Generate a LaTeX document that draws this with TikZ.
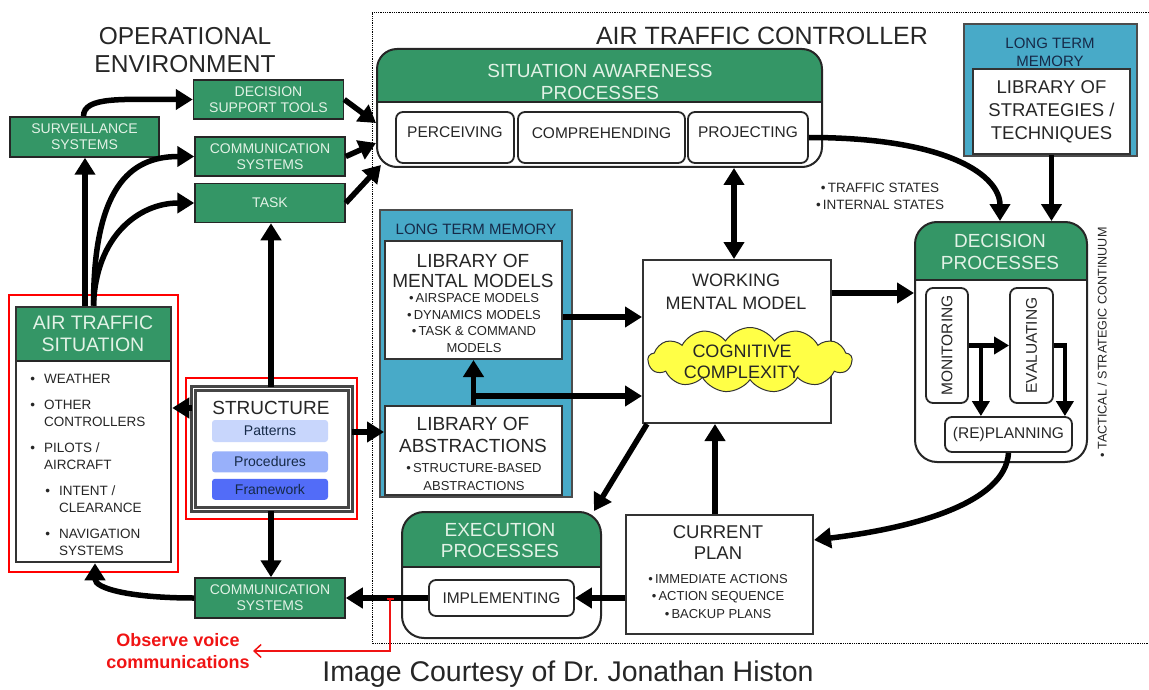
\documentclass[tikz,border=0pt]{standalone}
\usepackage{fontspec}
\setmainfont{Liberation Sans}
\usetikzlibrary{arrows.meta, positioning, shapes.symbols}

\definecolor{atcgreen}{RGB}{52,150,102}
\definecolor{hdwhite}{RGB}{226,242,230}
\definecolor{ltmblue}{RGB}{72,170,200}
\definecolor{ltmnavy}{RGB}{22,42,72}
\definecolor{txtdark}{RGB}{38,38,38}
\definecolor{patfill}{RGB}{200,214,252}
\definecolor{procfill}{RGB}{152,176,250}
\definecolor{frmfill}{RGB}{82,108,248}
\definecolor{cloudfill}{RGB}{255,255,70}
\definecolor{obsred}{RGB}{240,20,20}

\newcommand{\fsz}[2]{\fontsize{#1}{#2}\selectfont}

\begin{document}
\begin{tikzpicture}[x=1pt, y=-1pt,
    envbox/.style={rectangle, draw=black!85, line width=1.5pt, fill=atcgreen, text=hdwhite, font=\fsz{14}{16}, align=center, minimum width=150pt, minimum height=39pt, inner sep=1pt},
    plainbox/.style={rectangle, draw=black!80, line width=2pt, fill=white, inner sep=1pt, text=txtdark, align=center},
    procbox/.style={rectangle, draw=black!85, line width=2pt, rounded corners=20pt, fill=white},
    hdfill/.style={path picture={
        \fill[atcgreen, sharp corners] (path picture bounding box.north west) rectangle ([yshift=-#1]path picture bounding box.north east);
        \draw[black!85, line width=2pt, sharp corners] ([yshift=-#1]path picture bounding box.north west) -- ([yshift=-#1]path picture bounding box.north east);}},
    hdtext/.style={text=hdwhite, font=\fsz{19}{21.5}, align=center},
    subbox/.style={rectangle, draw=black!85, line width=1.8pt, rounded corners=7pt, fill=white, font=\fsz{15.5}{17}, text=txtdark, inner sep=1pt},
    ltmbox/.style={rectangle, draw=black!70, line width=1.2pt, fill=ltmblue},
    ltmlabel/.style={text=ltmnavy, font=\fsz{15}{18}, align=center},
    bigtxt/.style={text=txtdark, align=center},
    listtxt/.style={text=txtdark, font=\fsz{13.5}{17}, align=left, inner sep=0pt},
    tag/.style={rectangle, rounded corners=3pt, minimum width=116pt, minimum height=21pt, font=\fsz{14}{16}, text=ltmnavy, inner sep=0pt},
    redframe/.style={rectangle, draw=red, line width=2.5pt},
    arr/.style={line width=5.5pt, -{Triangle[length=17pt,width=20pt]}},
    dblarr/.style={line width=5.5pt, {Triangle[length=17pt,width=20pt]}-{Triangle[length=17pt,width=20pt]}},
    smallarr/.style={line width=4.5pt, -{Triangle[length=15pt,width=17pt]}}
]
    \useasboundingbox (0,0) rectangle (1149,690);

    % Controller frame
    \draw[densely dotted, line width=0.8pt] (1149,12) -- (372,12) -- (372,643) -- (1149,643);

    % Titles
    \node[font=\fsz{24.5}{28}, text=txtdark, align=center] (envtitle) at (185,50) {OPERATIONAL\\ENVIRONMENT};
    \node[font=\fsz{25}{28}, text=txtdark] (atctitle) at (762,36) {AIR TRAFFIC CONTROLLER};
    \node[font=\fsz{28.5}{31}, text=txtdark] (credit) at (568,674) {Image Courtesy of Dr.\ Jonathan Histon};

    % Operational environment
    \node[envbox, minimum width=149pt, minimum height=40pt] (surv) at (84.5,137) {SURVEILLANCE\\SYSTEMS};
    \node[envbox] (dst) at (268.5,99.5) {DECISION\\SUPPORT TOOLS};
    \node[envbox] (comm) at (270,156.5) {COMMUNICATION\\SYSTEMS};
    \node[envbox] (task) at (270,203) {TASK};
    \node[envbox, minimum height=40pt] (commout) at (270,598) {COMMUNICATION\\SYSTEMS};

    % Air traffic situation
    \node[redframe, minimum width=169pt, minimum height=277pt] (atsmark) at (93.5,433.5) {};
    \node[plainbox, line width=2.5pt, hdfill=54pt, minimum width=155pt, minimum height=255pt] (ats) at (93.5,434.5) {};
    \node[hdtext, font=\fsz{19.5}{22}] (atshd) at (93,334) {AIR TRAFFIC\\SITUATION};
    \foreach \x/\y/\t [count=\i] in {44/379/WEATHER, 44/413.5/{OTHER\\CONTROLLERS}, 44/456.5/{PILOTS /\\AIRCRAFT}, 59/499.5/{INTENT /\\CLEARANCE}, 59/542.5/{NAVIGATION\\SYSTEMS}}
        \node[listtxt, anchor=west] (atsitem\i) at (\x,\y) {\llap{\textbullet\hspace{9pt}}\t};

    % Structure
    \node[redframe, minimum width=171pt, minimum height=141pt] (structmark) at (271.5,448.5) {};
    \node[rectangle, draw=gray!55!black, line width=2.5pt, double=white, double distance=1.5pt, fill=white, minimum width=157pt, minimum height=121pt] (struct) at (272,449) {};
    \node[font=\fsz{19}{21}, text=txtdark] (structhd) at (271,408) {STRUCTURE};
    \node[tag, fill=patfill, minimum height=22pt] (patterns) at (270,431) {Patterns};
    \node[tag, fill=procfill, below=9pt of patterns] (procedures) {Procedures};
    \node[tag, fill=frmfill, below=6pt of procedures] (framework) {Framework};

    % Situation awareness
    \node[procbox, hdfill=53pt, minimum width=445pt, minimum height=118pt] (sa) at (599.5,108) {};
    \node[hdtext] (sahd) at (600,82) {SITUATION AWARENESS\\PROCESSES};
    \node[subbox, text depth=10pt, minimum width=118pt, minimum height=51pt] (perc) at (455,137.5) {PERCEIVING};
    \node[subbox, text depth=9pt, minimum width=167pt, minimum height=51pt] (comp) at (601.5,137.5) {COMPREHENDING};
    \node[subbox, text depth=10pt, minimum width=120pt, minimum height=51pt] (proj) at (748,137.5) {PROJECTING};

    % Long term memory, strategies
    \node[ltmbox, minimum width=173pt, minimum height=132pt] (ltmtop) at (1050.5,90) {};
    \node[ltmlabel] (ltmtophd) at (1050,52) {LONG TERM\\MEMORY};
    \node[plainbox, font=\fsz{18.5}{23}, minimum width=157pt, minimum height=85pt] (libstrat) at (1051.5,111.5) {LIBRARY OF\\STRATEGIES /\\TECHNIQUES};

    % Long term memory, models
    \node[ltmbox, minimum width=192pt, minimum height=287pt] (ltmmid) at (476,353.5) {};
    \node[ltmlabel] (ltmmidhd) at (476,229) {LONG TERM MEMORY};
    \node[plainbox, minimum width=177pt, minimum height=118pt] (libmm) at (473.5,300) {};
    \node[bigtxt, font=\fsz{19}{20}] (libmmhd) at (473,270.5) {LIBRARY OF\\MENTAL MODELS};
    \node[bigtxt, font=\fsz{13}{16.7}] (libmmlist) at (474,323) {\textbullet\,AIRSPACE MODELS\\\textbullet\,DYNAMICS MODELS\\\textbullet\,TASK \& COMMAND\\MODELS};
    \node[plainbox, minimum width=177pt, minimum height=89pt] (libabs) at (473.5,450.5) {};
    \node[bigtxt, font=\fsz{19}{22}] (libabshd) at (473,435) {LIBRARY OF\\ABSTRACTIONS};
    \node[bigtxt, font=\fsz{13}{18}] (libabslist) at (474,477) {\textbullet\,STRUCTURE-BASED\\ABSTRACTIONS};

    % Working mental model
    \node[plainbox, minimum width=188pt, minimum height=163pt] (wmm) at (737,341.5) {};
    \node[bigtxt, font=\fsz{18}{23}] (wmmhd) at (736,291.5) {WORKING\\MENTAL MODEL};
    \node[cloud, cloud puffs=13, cloud puff arc=115, cloud ignores aspect, draw=black!80, line width=1pt, fill=cloudfill, minimum width=204pt, minimum height=65pt] (cogcloud) at (750,360) {};
    \node[bigtxt, font=\fsz{18}{21}] (cogtxt) at (742,361.5) {COGNITIVE\\COMPLEXITY};

    % Decision processes
    \node[procbox, rounded corners=22pt, hdfill=58pt, minimum width=172pt, minimum height=240pt] (dec) at (1001,342) {};
    \node[hdtext] (dechd) at (1000,252) {DECISION\\PROCESSES};
    \node[subbox, rotate=90, minimum width=115pt, minimum height=42pt] (monit) at (947,345.5) {MONITORING};
    \node[subbox, rotate=90, minimum width=115pt, minimum height=43pt] (evalu) at (1031.5,345.5) {EVALUATING};
    \node[subbox, minimum width=127pt, minimum height=35pt] (replan) at (1008.5,434.5) {(RE)PLANNING};
    \node[font=\fsz{12.6}{14}, text=txtdark, rotate=90] (contin) at (1102,342.5) {\textbullet\ TACTICAL / STRATEGIC CONTINUUM};
    \node[font=\fsz{13.5}{17}, text=txtdark, align=center] (states) at (880,196.5) {\textbullet\,TRAFFIC STATES\\\textbullet\,INTERNAL STATES};

    % Current plan
    \node[plainbox, minimum width=187pt, minimum height=119pt] (plan) at (719.5,574.5) {};
    \node[bigtxt, font=\fsz{18.5}{21}] (planhd) at (718,542.5) {CURRENT\\PLAN};
    \node[bigtxt, font=\fsz{13}{17.5}] (planlist) at (718,596.5) {\textbullet\,IMMEDIATE ACTIONS\\\textbullet\,ACTION SEQUENCE\\\textbullet\,BACKUP PLANS};

    % Execution processes
    \node[procbox, rounded corners=22pt, hdfill=55pt, minimum width=199pt, minimum height=126pt] (exec) at (501.5,575) {};
    \node[hdtext] (exechd) at (500,540.5) {EXECUTION\\PROCESSES};
    \node[subbox, minimum width=145pt, minimum height=36pt] (impl) at (501.5,598) {IMPLEMENTING};

    % Observation note
    \node[text=obsred, font=\bfseries\fsz{18}{22}, align=center] (obstxt) at (178,651) {Observe voice\\communications};
    \coordinate (tap) at (390,598);

    % Arrows, environment
    \draw[arr] ([xshift=-8.5pt]ats.north) -- ([xshift=0.5pt]surv.south);
    \draw[arr] ([xshift=-1pt]surv.north) .. controls +(0,-20) and +(-70,0) .. (dst.west);
    \draw[arr] (ats.north) .. controls +(0,-117) and +(-65,0) .. (comm.west);
    \draw[arr] (ats.north) .. controls +(2,-70) and +(-55,0) .. (task.west);
    \draw[arr] (dst.east) -- ([yshift=-15pt]sa.west);
    \draw[arr] (comm.east) -- ([yshift=-35pt]sa.west);
    \draw[arr] (task.east) -- ([xshift=5pt,yshift=3pt]sa.south west);
    \draw[arr] ([xshift=-1pt]struct.north) -- ([xshift=-1pt]struct.north |- task.south);
    \draw[arr] ([yshift=41pt]struct.west) -- ([yshift=41pt]struct.west -| ats.east);
    \draw[arr] ([yshift=17pt]struct.east) -- ([yshift=17pt]struct.east -| libabs.west);
    \draw[arr] ([xshift=-1pt]struct.south) -- ([xshift=-1pt]struct.south |- commout.north);
    \draw[arr] (commout.west) .. controls +(-65,0) and +(0,25) .. ([xshift=1.5pt]ats.south);
    \draw[arr] (impl.west) -- (commout.east);

    % Arrows, controller
    \draw[arr] (plan.west |- impl.east) -- (impl.east);
    \draw[arr] ([xshift=-4.5pt]plan.north) -- ([xshift=-4.5pt]plan.north |- wmm.south);
    \draw[arr] ([xshift=5pt]wmm.south west) -- ([xshift=-8pt]exec.north east);
    \draw[dblarr] ([xshift=-3pt]wmm.north) -- ([xshift=-3pt]wmm.north |- sa.south);
    \draw[arr] ([yshift=-17pt]libmm.east) -- ([yshift=-17pt]libmm.east -| wmm.west);
    \draw[arr] (libabs.north) -- (libmm.south);
    \draw[arr] ([yshift=9pt]libabs.north) -- ([yshift=9pt]libabs.north -| wmm.west);
    \draw[arr] ([yshift=48.5pt]wmm.east) -- ([yshift=48.5pt]wmm.east -| dec.west);
    \draw[arr] (proj.east) .. controls +(140,0) and +(0,-45) .. ([xshift=-1pt]dec.north);
    \draw[arr] (libstrat.south) -- (libstrat.south |- dec.north);
    \draw[arr] (replan.south) .. controls +(-3,50) and +(100,-12) .. ([yshift=34.5pt]plan.east);

    % Arrows, decision loop
    \draw[smallarr] (monit.south) -- (evalu.north);
    \draw[smallarr] ([xshift=12pt]monit.south) -- ([xshift=12pt]monit.south |- replan.north);
    \draw[smallarr] (evalu.south) -- ++(11,0) -- ([xshift=11pt]evalu.south |- replan.north);

    % Observation tap
    \draw[obsred, line width=1.5pt, {Bar[width=7pt]}-{Straight Barb[length=7pt,width=13pt]}] (tap) |- (obstxt.east);
\end{tikzpicture}
\end{document}
